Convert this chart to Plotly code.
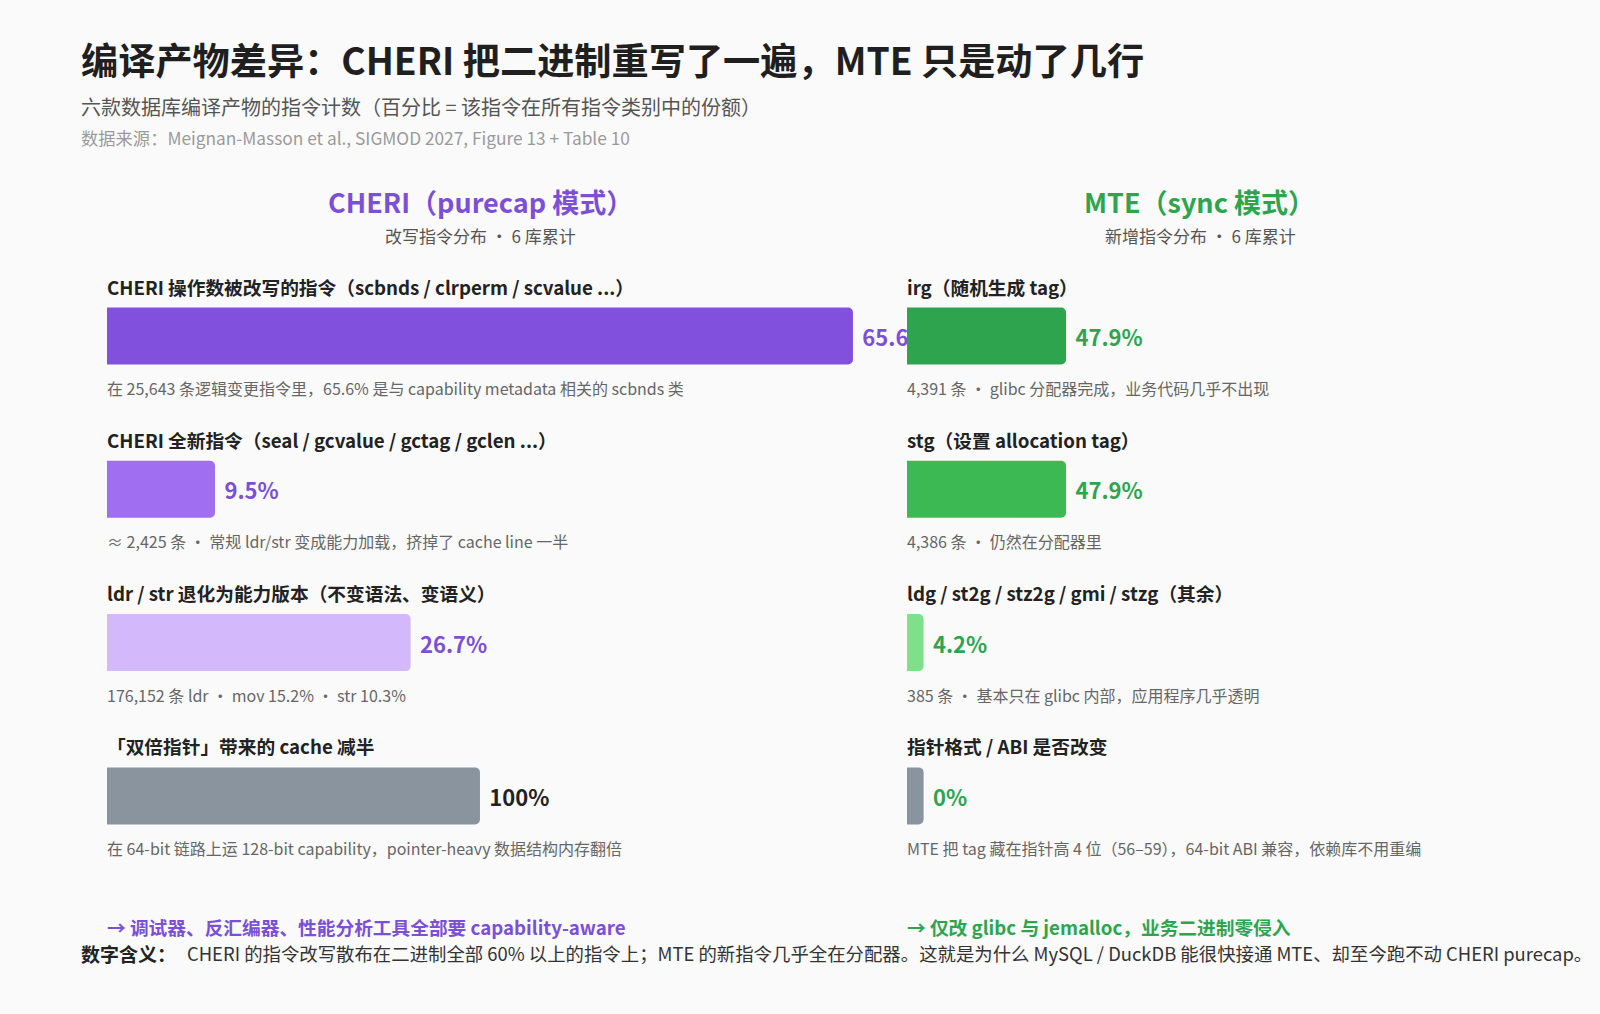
import plotly.graph_objects as go

FONT = "Noto Sans CJK SC"

# ---------------- data ----------------
cheri_labels = [
    "CHERI 操作数被改写的指令（scbnds / clrperm / scvalue ...）",
    "CHERI 全新指令（seal / gcvalue / gctag / gclen ...）",
    "ldr / str 退化为能力版本（不变语法、变语义）",
    "「双倍指针」带来的 cache 减半",
]
cheri_values = [65.6, 9.5, 26.7, 100]
cheri_notes = [
    "在 25,643 条逻辑变更指令里，65.6% 是与 capability metadata 相关的 scbnds 类",
    "≈ 2,425 条 · 常规 ldr/str 变成能力加载，挤掉了 cache line 一半",
    "176,152 条 ldr · mov 15.2% · str 10.3%",
    "在 64-bit 链路上运 128-bit capability，pointer-heavy 数据结构内存翻倍",
]

mte_labels = [
    "irg（随机生成 tag）",
    "stg（设置 allocation tag）",
    "ldg / st2g / stz2g / gmi / stzg（其余）",
    "指针格式 / ABI 是否改变",
]
mte_values = [47.9, 47.9, 4.2, 0]
mte_notes = [
    "4,391 条 · glibc 分配器完成，业务代码几乎不出现",
    "4,386 条 · 仍然在分配器里",
    "385 条 · 基本只在 glibc 内部，应用程序几乎透明",
    "MTE 把 tag 藏在指针高 4 位（56–59），64-bit ABI 兼容，依赖库不用重编",
]

title = "编译产物差异：CHERI 把二进制重写了一遍，MTE 只是动了几行"
subtitle = "六款数据库编译产物的指令计数（百分比 = 该指令在所有指令类别中的份额）"
source = "数据来源：Meignan-Masson et al., SIGMOD 2027, Figure 13 + Table 10"
cheri_head = "CHERI（purecap 模式）"
cheri_sub = "改写指令分布 · 6 库累计"
mte_head = "MTE（sync 模式）"
mte_sub = "新增指令分布 · 6 库累计"
cheri_take = "→ 调试器、反汇编器、性能分析工具全部要 capability-aware"
mte_take = "→ 仅改 glibc 与 jemalloc，业务二进制零侵入"
meaning_head = "数字含义："
meaning_body = ("CHERI 的指令改写散布在二进制全部 60% 以上的指令上；MTE 的新指令几乎全在分配器。"
                "这就是为什么 MySQL / DuckDB 能很快接通 MTE、却至今跑不动 CHERI purecap。")

# ---------------- styles ----------------
W, H = 1600, 1014
BG = "#fafafa"
PURPLE = "#7b4fd6"
GREEN = "#2ea44f"
cheri_colors = ["#8150dd", "#a06ef0", "#d4b8fc", "#8a949e"]
cheri_text_colors = [PURPLE, PURPLE, PURPLE, "#222222"]
mte_colors = ["#2ea44f", "#3db954", "#7fe08c", "#8a949e"]
MIN_STUB = 5  # minimal visible length for a 0% bar (x2 units)

rows = list(range(4))
ROW_PX = 153.3
FIRST_ROW_PX = 336
y_top = -FIRST_ROW_PX / ROW_PX
y_bot = (H - FIRST_ROW_PX) / ROW_PX
BAR_W = 57 / ROW_PX

left_dom = [107 / W, 907 / W]
right_dom = [907 / W, 1.0]

pad = "\u00a0\u200a"

fig = go.Figure()

# left panel, share rows (0-2)
fig.add_trace(go.Bar(
    x=cheri_values[:3], y=rows[:3], orientation="h", width=BAR_W,
    marker=dict(color=cheri_colors[:3], line=dict(width=0)),
    text=[f"{pad}{v}%" for v in cheri_values[:3]], textposition="outside",
    textfont=dict(family=FONT, size=22, color=cheri_text_colors[:3], weight="bold"),
    constraintext="none", cliponaxis=True, xaxis="x", yaxis="y",
    hoverinfo="skip", showlegend=False,
))
# left panel, cache row on its own scale
fig.add_trace(go.Bar(
    x=cheri_values[3:], y=rows[3:], orientation="h", width=BAR_W,
    marker=dict(color=cheri_colors[3:], line=dict(width=0)),
    text=[f"{pad}{v}%" for v in cheri_values[3:]], textposition="outside",
    textfont=dict(family=FONT, size=22, color=cheri_text_colors[3:], weight="bold"),
    constraintext="none", cliponaxis=True, xaxis="x3", yaxis="y",
    hoverinfo="skip", showlegend=False,
))
# right panel
fig.add_trace(go.Bar(
    x=[max(v, MIN_STUB) for v in mte_values], y=rows, orientation="h", width=BAR_W,
    marker=dict(color=mte_colors, line=dict(width=0)),
    text=[f"{pad}{v:g}%" for v in mte_values], textposition="outside",
    textfont=dict(family=FONT, size=22, color=GREEN, weight="bold"),
    constraintext="none", cliponaxis=True, xaxis="x2", yaxis="y2",
    hoverinfo="skip", showlegend=False,
))

ax_hidden = dict(showgrid=False, zeroline=False, showticklabels=False,
                 showline=False, ticks="", fixedrange=True)

annotations = []
def ann(text, x, y, size, color, xref="paper", yref="paper", xanchor="left",
        yanchor="middle", bold=False, yshift=0):
    annotations.append(dict(
        text=f"<b>{text}</b>" if bold else text, x=x, y=y, xref=xref, yref=yref,
        xanchor=xanchor, yanchor=yanchor, showarrow=False, yshift=yshift,
        xshift=-2 if xanchor == "left" else 0,
        font=dict(family=FONT, size=size, color=color), align="left",
    ))

def py(px):
    return 1 - px / H

ann(title, 81 / W, py(59), 37.2, "#1f1f1f", bold=True)
ann(subtitle, 81 / W, py(107), 20, "#555555")
ann(source, 81 / W, py(137), 17.3, "#9a9a9a")

ann(cheri_head, 480 / W, py(201), 27, PURPLE, xanchor="center", bold=True)
ann(cheri_sub, 480 / W, py(236), 17, "#555555", xanchor="center")
ann(mte_head, 1199 / W, py(201), 27, GREEN, xanchor="center", bold=True)
ann(mte_sub, 1200 / W, py(236), 17, "#555555", xanchor="center")

for i in rows:
    ann(cheri_labels[i], 0, i, 18.7, "#222222", xref="x", yref="y", bold=True, yshift=50)
    ann(cheri_notes[i], 0, i, 16, "#666666", xref="x", yref="y", yshift=-52)
    ann(mte_labels[i], 0, i, 18.7, "#222222", xref="x2", yref="y2", bold=True, yshift=50)
    ann(mte_notes[i], 0, i, 16, "#666666", xref="x2", yref="y2", yshift=-52)

ann(cheri_take, 107 / W, py(926), 18.7, PURPLE, bold=True)
ann(mte_take, 907 / W, py(926), 18.7, GREEN, bold=True)
ann(meaning_head, 81 / W, py(953), 19, "#222222", bold=True)
ann(meaning_body, 187 / W, py(953), 18.4, "#333333")

fig.update_layout(
    width=W, height=H, margin=dict(l=0, r=0, t=0, b=0),
    paper_bgcolor=BG, plot_bgcolor="rgba(0,0,0,0)",
    font=dict(family=FONT),
    barcornerradius=5,
    xaxis=dict(domain=left_dom, range=[0, 70.35], anchor="y", **ax_hidden),
    xaxis3=dict(domain=left_dom, range=[0, 214.5], anchor="y", overlaying="x", **ax_hidden),
    xaxis2=dict(domain=right_dom, range=[0, 208.7], anchor="y2", **ax_hidden),
    yaxis=dict(domain=[0, 1], range=[y_bot, y_top], anchor="x", **ax_hidden),
    yaxis2=dict(domain=[0, 1], range=[y_bot, y_top], anchor="x2", **ax_hidden),
    annotations=annotations,
    showlegend=False,
)

fig.write_html("out.html")
